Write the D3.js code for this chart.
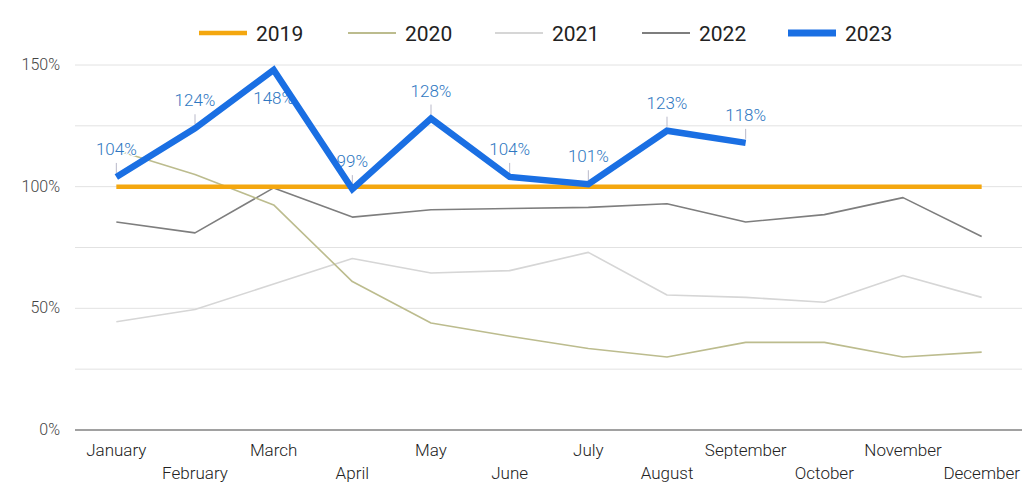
<!DOCTYPE html>
<html>
<head>
<meta charset="utf-8">
<script src="https://cdn.jsdelivr.net/npm/d3@7"></script>
<style>
  html, body { margin: 0; padding: 0; background: #fff; }
  svg { display: block; font-family: Roboto, "Noto Sans", sans-serif; }
</style>
</head>
<body>
<svg id="chart" width="1034" height="487"></svg>
<script>
// Monthly values, percent of the 2019 baseline
const months = ["January", "February", "March", "April", "May", "June",
  "July", "August", "September", "October", "November", "December"];
const years = ["2019", "2020", "2021", "2022", "2023"];
const values2019 = [100, 100, 100, 100, 100, 100, 100, 100, 100, 100, 100, 100];
const values2020 = [115, 105, 92.5, 61, 44, 38.5, 33.5, 30, 36, 36, 30, 32];
const values2021 = [44.5, 49.5, 60, 70.5, 64.5, 65.5, 73, 55.5, 54.5, 52.5, 63.5, 54.5];
const values2022 = [85.5, 81, 99.5, 87.5, 90.5, 91, 91.5, 93, 85.5, 88.5, 95.5, 79.5];
const values2023 = [104, 124, 148, 99, 128, 104, 101, 123, 118];
const yTicks = [0, 50, 100, 150];
const yGrid = [25, 50, 75, 100, 125, 150];

const series = [
  { name: "2019", values: values2019, color: "#f4a70f", width: 4.5 },
  { name: "2020", values: values2020, color: "#bcbc8e", width: 1.6 },
  { name: "2021", values: values2021, color: "#d6d6d6", width: 1.6 },
  { name: "2022", values: values2022, color: "#7e7e7e", width: 1.6 },
  { name: "2023", values: values2023, color: "#1a6fe3", width: 6.5 }
];

const svg = d3.select("#chart");
const plotLeft = 75, plotRight = 1022, plotTop = 65, plotBottom = 430;

const x = d3.scalePoint().domain(months).range([77, 1021]).padding(0.5);
const y = d3.scaleLinear().domain([0, 150]).range([plotBottom, plotTop]);

// Gridlines
svg.append("g").selectAll("line").data(yGrid).join("line")
  .attr("x1", plotLeft).attr("x2", plotRight)
  .attr("y1", d => y(d)).attr("y2", d => y(d))
  .attr("stroke", "#e2e2e2").attr("stroke-width", 1);

// Baseline
svg.append("line")
  .attr("x1", plotLeft).attr("x2", plotRight)
  .attr("y1", y(0)).attr("y2", y(0))
  .attr("stroke", "#444").attr("stroke-width", 1.2);

// Y axis labels
svg.append("g").selectAll("text").data(yTicks).join("text")
  .attr("x", 60).attr("y", d => y(d) + 5)
  .attr("text-anchor", "end")
  .attr("font-size", 16).attr("font-weight", 300).attr("fill", "#444")
  .text(d => d + "%");

// X axis labels, staggered on two rows
svg.append("g").selectAll("text").data(months).join("text")
  .attr("x", d => x(d))
  .attr("y", (d, i) => i % 2 === 0 ? 456 : 479)
  .attr("text-anchor", "middle")
  .attr("font-size", 17).attr("font-weight", 300).attr("fill", "#222")
  .text(d => d);

const line = d3.line()
  .x((d, i) => x(months[i]))
  .y(d => y(d));

// Background series
svg.append("g").selectAll("path").data(series.slice(0, 4).reverse()).join("path")
  .attr("d", s => line(s.values))
  .attr("fill", "none")
  .attr("stroke", s => s.color)
  .attr("stroke-width", s => s.width)
  .attr("stroke-linejoin", "round");

// Annotations for 2023
const ann = svg.append("g");
values2023.forEach((v, i) => {
  const px = x(months[i]);
  const py = y(v);
  const below = v >= 145;
  const ty = below ? py + 34 : py - 22;
  if (!below) {
    ann.append("line")
      .attr("x1", px).attr("x2", px)
      .attr("y1", py - 4).attr("y2", py - 14)
      .attr("stroke", "#b9b9c9").attr("stroke-width", 1);
  }
  ann.append("text")
    .attr("x", px).attr("y", ty)
    .attr("text-anchor", "middle")
    .attr("font-size", 17).attr("font-weight", 300)
    .attr("fill", "#2f78c2")
    .attr("stroke", "#fff").attr("stroke-width", 2.5)
    .attr("paint-order", "stroke")
    .text(v + "%");
});

// 2023 series on top
svg.append("path")
  .attr("d", line(values2023))
  .attr("fill", "none")
  .attr("stroke", series[4].color)
  .attr("stroke-width", series[4].width)
  .attr("stroke-linejoin", "miter");

// Legend
const legendX = [199, 348, 495, 642, 788];
const legend = svg.append("g");
series.forEach((s, i) => {
  const g = legend.append("g").attr("transform", `translate(${legendX[i]},33)`);
  g.append("line")
    .attr("x1", 0).attr("x2", 48).attr("y1", 0).attr("y2", 0)
    .attr("stroke", s.color)
    .attr("stroke-width", i === 4 ? 7 : (i === 0 ? 4.5 : 2));
  g.append("text")
    .attr("x", 57).attr("y", 8)
    .attr("font-size", 21).attr("font-weight", 400).attr("fill", "#222")
    .text(years[i]);
});
</script>
</body>
</html>
